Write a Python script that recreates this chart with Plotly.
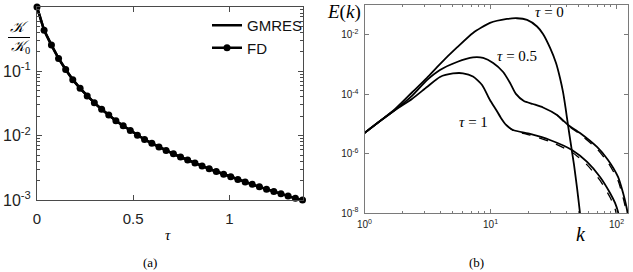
import plotly.graph_objects as go

# ---------------- panel (a) data ----------------
tau = [0.0, 0.037, 0.075, 0.112, 0.149, 0.186, 0.224, 0.261, 0.298, 0.336,
       0.373, 0.410, 0.448, 0.485, 0.522, 0.559, 0.597, 0.634, 0.671, 0.709,
       0.746, 0.783, 0.821, 0.858, 0.895, 0.932, 0.970, 1.007, 1.044, 1.082,
       1.119, 1.156, 1.193, 1.231, 1.268, 1.305, 1.343, 1.380]
K_ratio = [1.0, 0.435, 0.256, 0.159, 0.107, 0.0743, 0.0545, 0.0413, 0.0324, 0.0258,
           0.0209, 0.0171, 0.01426, 0.0120, 0.01019, 0.00873, 0.00760, 0.00667, 0.00589, 0.00522,
           0.00466, 0.00417, 0.00375, 0.00338, 0.00305, 0.00277, 0.00251, 0.00229, 0.00208, 0.00191,
           0.00175, 0.00160, 0.00147, 0.00136, 0.00125, 0.00115, 0.00106, 0.00100]

# ---------------- panel (b) data ----------------
k_t0 = [1.0, 1.33, 1.75, 2.38, 3.13, 3.97, 5.42, 7.26, 9.9, 13.5, 16.2, 19.5, 23.4, 26.1,
        29.7, 33.1, 35.6, 37.6, 39.4, 41.2, 43.5, 46.0, 48.6, 51.3, 52.3]
E_t0 = [5.0e-6, 1.26e-5, 3.2e-5, 1.15e-4, 3.6e-4, 1.05e-3, 3.8e-3, 1.17e-2, 2.54e-2, 3.46e-2,
        3.66e-2, 3.21e-2, 1.93e-2, 1.08e-2, 3.65e-3, 1.14e-3, 3.56e-4, 1.2e-4, 3.47e-5, 9.3e-6,
        1.96e-6, 4.15e-7, 6.97e-8, 1.0e-8, 5.0e-9]

k_t05 = [1.0, 1.33, 1.75, 2.38, 3.13, 3.97, 5.42, 7.26, 8.74, 10.5, 12.6, 14.3, 15.9, 18.4,
         21.7, 26.1, 33.7, 41.2, 51.3, 70.0, 85.6, 102.8, 112.7, 119.0, 122.3, 123.4]
E_t05 = [5.0e-6, 1.26e-5, 2.97e-5, 8.8e-5, 3.0e-4, 6.6e-4, 1.23e-3, 1.75e-3, 1.68e-3, 1.14e-3,
         5.66e-4, 2.41e-4, 1.03e-4, 5.97e-5, 4.72e-5, 3.6e-5, 2.01e-5, 9.3e-6, 4.98e-6, 1.68e-6,
         6.12e-7, 1.64e-7, 4.73e-8, 1.86e-8, 1.0e-8, 5.8e-9]

k_t1 = [1.0, 1.33, 1.75, 2.38, 3.13, 3.97, 5.04, 6.05, 7.26, 8.57, 9.9, 11.1, 12.1, 13.3,
        15.1, 20.6, 29.6, 44.3, 58.4, 74.0, 88.8, 97.3, 102.8, 104.7]
E_t1 = [5.0e-6, 1.26e-5, 2.97e-5, 6.97e-5, 1.77e-4, 3.84e-4, 5.04e-4, 5.12e-4, 3.99e-4, 2.07e-4,
        6.44e-5, 2.97e-5, 1.6e-5, 9.3e-6, 6.28e-6, 4.6e-6, 2.89e-6, 1.33e-6, 5.25e-7, 1.64e-7,
        4.73e-8, 2.18e-8, 1.08e-8, 6.8e-9]

# dashed (second method) where it separates from the solid curves
k_t05_d = [33.7, 41.2, 51.3, 70.0, 85.6, 102.8, 112.7, 119.0, 122.0]
E_t05_d = [2.0e-5, 8.9e-6, 4.5e-6, 1.45e-6, 5.0e-7, 1.25e-7, 3.3e-8, 1.25e-8, 6.0e-9]
k_t1_d = [13.3, 15.1, 20.6, 29.6, 44.3, 58.4, 74.0, 88.8, 97.3, 101.0]
E_t1_d = [9.3e-6, 6.1e-6, 4.2e-6, 2.55e-6, 1.12e-6, 4.2e-7, 1.25e-7, 3.4e-8, 1.4e-8, 7.0e-9]

a_xticks = [0, 0.5, 1]
a_xticktext = ["0", "0.5", "1"]
a_yticks = [1e-3, 1e-2, 1e-1, 1e0]
a_yticktext = ["10<sup>-3</sup>", "10<sup>-2</sup>", "10<sup>-1</sup>", "10<sup>0</sup>"]
b_xticks = [1, 10, 100]
b_xticktext = ["10<sup>0</sup>", "10<sup>1</sup>", "10<sup>2</sup>"]
b_yticks = [1e-8, 1e-6, 1e-4, 1e-2]
b_yticktext = ["10<sup>-8</sup>", "10<sup>-6</sup>", "10<sup>-4</sup>", "10<sup>-2</sup>"]

W, H = 633, 272
def fx(p):
    return p / W
def fy(p):
    return 1 - p / H

SANS = "Liberation Sans, Arial, sans-serif"
SERIF = "Liberation Serif, DejaVu Serif, serif"
LC_A = "#4a4a4a"
LC_B = "#7a7a7a"

fig = go.Figure()
fig.add_trace(go.Scatter(x=tau, y=K_ratio, mode="lines", name="GMRES",
                         line=dict(color="black", width=2.5), xaxis="x", yaxis="y"))
fig.add_trace(go.Scatter(x=tau, y=K_ratio, mode="lines+markers", name="FD",
                         line=dict(color="black", width=2.5),
                         marker=dict(size=7, color="black"), cliponaxis=False,
                         xaxis="x", yaxis="y"))

for kk, ee in [(k_t0, E_t0), (k_t05, E_t05), (k_t1, E_t1)]:
    fig.add_trace(go.Scatter(x=kk, y=ee, mode="lines", showlegend=False,
                             line=dict(color="black", width=1.8, shape="spline", smoothing=0.6),
                             xaxis="x2", yaxis="y2"))
for kk, ee in [(k_t05_d, E_t05_d), (k_t1_d, E_t1_d)]:
    fig.add_trace(go.Scatter(x=kk, y=ee, mode="lines", showlegend=False,
                             line=dict(color="black", width=1.3, dash="dash", shape="spline", smoothing=0.6),
                             xaxis="x2", yaxis="y2"))

a_minor_y = [m * 10 ** e for e in range(-3, 0) for m in range(2, 10)]
b_minor_x = [m * 10 ** e for e in range(0, 2) for m in range(2, 10)]

common = dict(showgrid=False, zeroline=False, showline=True, mirror="ticks",
              ticks="inside", tickwidth=1, automargin=False)

fig.update_layout(
    width=W, height=H, margin=dict(l=0, r=0, t=0, b=0),
    paper_bgcolor="white", plot_bgcolor="white",
    xaxis=dict(domain=[fx(37), fx(302.5)], range=[0, 1.38], anchor="y",
               tickmode="array", tickvals=a_xticks, ticktext=a_xticktext,
               ticklen=5, linecolor=LC_A, tickcolor=LC_A, ticklabelstandoff=5,
               tickfont=dict(family=SANS, size=15, color="#222"), **common),
    yaxis=dict(domain=[fy(200), fy(7)], type="log", range=[-3, 0], anchor="x",
               tickmode="array", tickvals=a_yticks, ticktext=a_yticktext,
               ticklen=5, linecolor=LC_A, tickcolor=LC_A, ticklabelstandoff=2,
               minor=dict(tickvals=a_minor_y, ticks="inside", ticklen=3, tickcolor=LC_A),
               tickfont=dict(family=SANS, size=16, color="#222"), **common),
    xaxis2=dict(domain=[fx(364.5), fx(628)], type="log", range=[0, 2.091], anchor="y2",
                tickmode="array", tickvals=b_xticks, ticktext=b_xticktext,
                ticklen=4, linecolor=LC_B, tickcolor=LC_B, ticklabelstandoff=2,
                minor=dict(tickvals=b_minor_x, ticks="inside", ticklen=2, tickcolor=LC_B),
                tickfont=dict(family=SANS, size=10, color="#222"), **common),
    yaxis2=dict(domain=[fy(213), fy(5.3)], type="log", range=[-8, -1], anchor="x2",
                tickmode="array", tickvals=b_yticks, ticktext=b_yticktext,
                ticklen=4, linecolor=LC_B, tickcolor=LC_B, ticklabelstandoff=3,
                tickfont=dict(family=SANS, size=10, color="#222"), **common),
    legend=dict(x=fx(207), y=fy(9), xanchor="left", yanchor="top",
                bgcolor="rgba(0,0,0,0)", borderwidth=0,
                font=dict(family=SANS, size=15, color="#111"),
                tracegroupgap=0, itemwidth=30),
    showlegend=True,
)

def ann(text, x, y, size, family=SERIF, xanchor="center"):
    fig.add_annotation(text=text, x=fx(x), y=fy(y), xref="paper", yref="paper",
                       showarrow=False, xanchor=xanchor, yanchor="middle",
                       font=dict(family=family, size=size, color="black"))

# panel (a) labels
ann("<i>𝒦</i>", 19, 27, 15)
ann("<i>𝒦</i><sub>0</sub>", 20, 47.5, 15)
fig.add_shape(type="line", xref="paper", yref="paper", x0=fx(8), x1=fx(30),
              y0=fy(37.5), y1=fy(37.5), line=dict(color="black", width=1))
ann("<i>τ</i>", 168, 235, 15)
ann("(a)", 150, 262, 13)

# panel (b) labels
ann("<i>E</i>(<i>k</i>)", 344, 12, 19)
ann("<i>k</i>", 581, 234, 20)
ann("(b)", 476, 262, 13)
ann("<i>τ</i> = 0", 549, 12.5, 15)
ann("<i>τ</i> = 0.5", 517, 56, 15)
ann("<i>τ</i> = 1", 473, 122, 15)

fig.write_html("out.html")
